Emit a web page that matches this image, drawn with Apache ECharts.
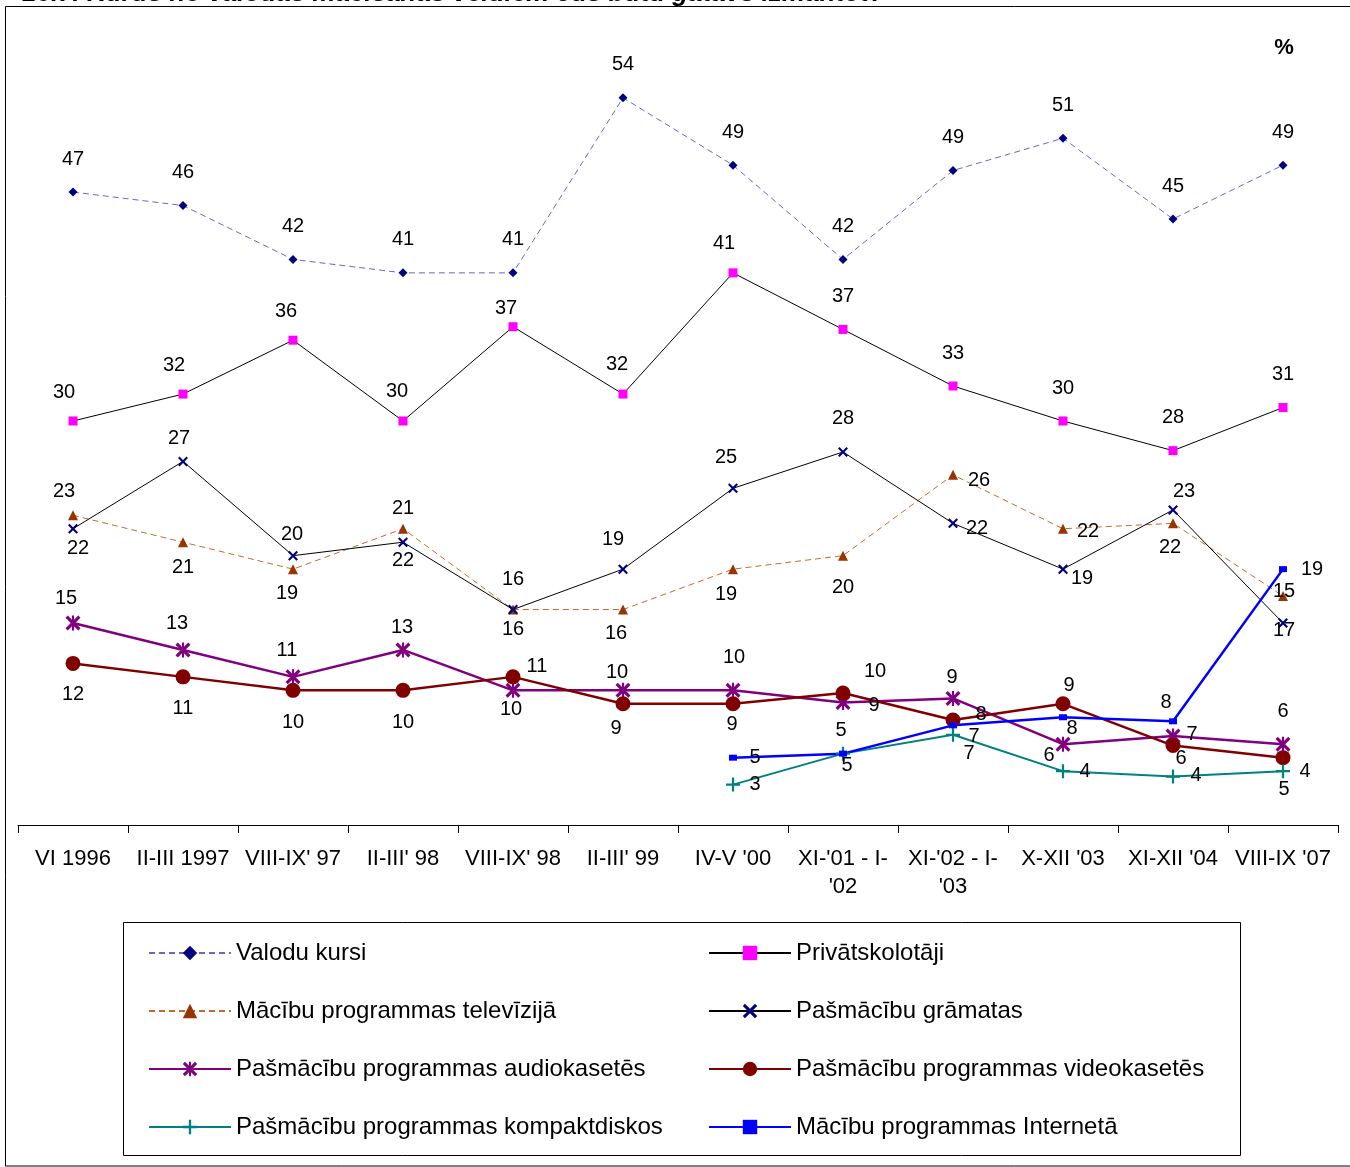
<!DOCTYPE html>
<html><head><meta charset="utf-8">
<script src="https://cdn.jsdelivr.net/npm/echarts@6/dist/echarts.min.js"></script>
<style>html,body{margin:0;padding:0;background:#fff}#c{width:1350px;height:1167px}</style>
</head><body><div id="c"></div>
<script>
const categories = ['VI 1996','II-III 1997',"VIII-IX' 97","II-III' 98","VIII-IX' 98","II-III' 99","IV-V '00","XI-'01 - I-'02","XI-'02 - I-'03","X-XII '03","XI-XII '04","VIII-IX '07"];
const seriesNames = ['Valodu kursi','Privātskolotāji','Mācību programmas televīzijā','Pašmācību grāmatas','Pašmācību programmas audiokasetēs','Pašmācību programmas videokasetēs','Pašmācību programmas kompaktdiskos','Mācību programmas Internetā'];
const valoduKursi   = [47,46,42,41,41,54,49,42,48.6,51,45,49];
const privatskolotaji = [30,32,36,30,37,32,41,36.8,32.6,30,27.8,31];
const televizija    = [23,21,19,22,16,16,19,20,26,22,22.4,17];
const gramatas      = [22,27,20,21,16,19,25,27.7,22.4,19,23.4,15];
const audiokasetes  = [15,13,11,13,10,10,10,9.1,9.4,6,6.6,6];
const videokasetes  = [12,11,10,10,11,9,9,9.8,7.8,9,5.9,5];
const kompaktdiski  = [null,null,null,null,null,null,3,5.3,6.7,4,3.6,4];
const internets     = [null,null,null,null,null,null,5,5.3,7.4,8,7.7,19];

// label offsets (style only)
const offValodu = Array(12).fill([0,-33]);
const offPriv = [[-9,-29],[-9,-29],[-7,-29],[-6,-30],[-7,-18],[-6,-30],[-9,-29],[0,-33],[0,-33],[0,-33],[0,-33],[0,-33]];
const offTv = [[-9,-24],[0,25],[-6,24],[0,32],[0,20],[-7,24],[-7,25],[0,32],[26,6],[25,3],[-3,24],[1,34]];
const offGram = [[5,20],[-4,-23],[-1,-21],[0,-34],[0,-30],[-10,-30],[-7,-31],[0,-33],[24,5],[19,9],[11,-18],[1,-32]];
const offAudio = [[-7,-25],[-6,-26],[-6,-26],[-1,-22],[-2,19],[-6,-18],[1,-33],[31,3],[-1,-21],[-14,11],[19,-2],[0,-33]];
const offVideo = [[0,31],[0,32],[0,32],[0,32],[24,-10],[-7,25],[-1,21],[32,-22],[28,-5],[6,-18],[8,13],[1,32]];
const offCd = [null,null,null,null,null,null,[22,0],[4,12],[16,19],[22,0],[23,-1],[22,0]];
const offNet = [null,null,null,null,null,null,[22,0],[-2,-23],[21,11],[9,11],[-7,-19],[29,0]];

const FONT = '"Liberation Sans", Arial, sans-serif';
const X_PATH = 'path://M0,1.5L1.5,0L5,3.5L8.5,0L10,1.5L6.5,5L10,8.5L8.5,10L5,6.5L1.5,10L0,8.5L3.5,5Z';
const PLUS_PATH = 'path://M4.2,0H5.8V4.2H10V5.8H5.8V10H4.2V5.8H0V4.2H4.2Z';
const STAR_PATH = 'path://M0,1.5L1.5,0L5,3.5L8.5,0L10,1.5L6.5,5L10,8.5L8.5,10L5,6.5L1.5,10L0,8.5L3.5,5Z M4.3,0H5.7V10H4.3Z';

function items(vals, offs){
  return vals.map((v,i)=> v==null ? '-' : ({value:v, label:{offset:offs[i]}}));
}
function mk(name, vals, offs, o){
  return Object.assign({
    name, type:'line', data: items(vals, offs), connectNulls:false,
    label:{show:true, position:'inside', color:'#000', fontSize:20, fontFamily:FONT,
      formatter:p=>Math.round(p.value)},
    emphasis:{disabled:true}, animation:false
  }, o);
}
const legendCommon = {orient:'vertical', top:941, padding:0, itemWidth:82, itemHeight:18, itemGap:34,
  textStyle:{fontSize:24, lineHeight:24, fontFamily:FONT, color:'#000'}};

const chart = echarts.init(document.getElementById('c'), null, {renderer:'canvas'});
chart.setOption({
  animation:false,
  grid:{left:18, right:12, top:17, bottom:342},
  xAxis:{type:'category', data:categories, boundaryGap:true,
    axisLine:{lineStyle:{color:'#000', width:1}},
    axisTick:{show:true, length:8, lineStyle:{color:'#000'}},
    axisLabel:{color:'#000', fontSize:22, fontFamily:FONT, margin:20, lineHeight:28, interval:0,
      formatter:v=>v.replace(/ I-'(\d\d)$/, " I-\n'$1")}},
  yAxis:{type:'value', min:0, max:60, show:false, splitLine:{show:false}},
  legend:[
    Object.assign({data:[seriesNames[0],seriesNames[2],seriesNames[4],seriesNames[6]], left:148}, legendCommon),
    Object.assign({data:[seriesNames[1],seriesNames[3],seriesNames[5],seriesNames[7]], left:708}, legendCommon)
  ],
  graphic:[
    {type:'text', x:22, y:7, style:{text:'16.7. Kurus no valodas mācīšanās veidiem Jūs būtu gatavs izmantot?', fontSize:26, fontWeight:'bold', fontStyle:'italic', fontFamily:FONT, fill:'#000', verticalAlign:'bottom'}},
    {type:'rect', shape:{x:0,y:6,width:1350,height:1}, style:{fill:'#fff'}, silent:true},
    {type:'rect', shape:{x:5.5,y:6.5,width:1360,height:1159.5}, style:{fill:'none', stroke:'#000', lineWidth:1}, silent:true},
    {type:'rect', shape:{x:123.5,y:922.5,width:1117,height:233}, style:{fill:'none', stroke:'#000', lineWidth:1}, silent:true},
    {type:'text', x:1284, y:48, style:{text:'%', fontSize:22, fontWeight:'bold', fontFamily:FONT, fill:'#000', align:'center', verticalAlign:'middle'}}
  ],
  series:[
    mk(seriesNames[0], valoduKursi, offValodu, {symbol:'diamond', symbolSize:9, itemStyle:{color:'#000080'}, lineStyle:{color:'#6666cc', width:1, type:[6,4]}}),
    mk(seriesNames[1], privatskolotaji, offPriv, {symbol:'rect', symbolSize:9, itemStyle:{color:'#ff00ff'}, lineStyle:{color:'#000', width:1}}),
    mk(seriesNames[2], televizija, offTv, {symbol:'triangle', symbolSize:10, itemStyle:{color:'#993300'}, lineStyle:{color:'#c8682c', width:1, type:[6,4]}}),
    mk(seriesNames[3], gramatas, offGram, {symbol:X_PATH, symbolSize:10, itemStyle:{color:'#000080'}, lineStyle:{color:'#000', width:1}}),
    mk(seriesNames[4], audiokasetes, offAudio, {symbol:STAR_PATH, symbolSize:15, itemStyle:{color:'#800080'}, lineStyle:{color:'#800080', width:2.5}}),
    mk(seriesNames[5], videokasetes, offVideo, {symbol:'circle', symbolSize:15, itemStyle:{color:'#800000'}, lineStyle:{color:'#800000', width:2.5}}),
    mk(seriesNames[6], kompaktdiski, offCd, {symbol:PLUS_PATH, symbolSize:14, itemStyle:{color:'#008080'}, lineStyle:{color:'#008080', width:2}}),
    mk(seriesNames[7], internets, offNet, {symbol:'rect', symbolSize:[8,6], itemStyle:{color:'#0000ff'}, lineStyle:{color:'#0000ff', width:2.5}})
  ]
});
</script></body></html>
